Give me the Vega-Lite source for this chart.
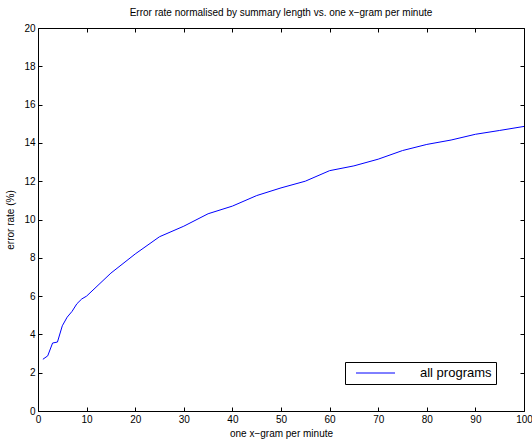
{
  "$schema": "https://vega.github.io/schema/vega-lite/v6.json",
  "width": 486,
  "height": 383,
  "autosize": {"type": "none"},
  "padding": {"left": 38, "top": 28, "right": 8, "bottom": 28},
  "background": "white",
  "title": {"text": "Error rate normalised by summary length vs. one x−gram per minute", "fontSize": 10, "fontWeight": "normal", "font": "Liberation Sans", "color": "black", "offset": 5},
  "config": {
    "view": {"stroke": null},
    "font": "Liberation Sans",
    "axis": {"grid": false, "domainColor": "black", "domainWidth": 1, "tickColor": "black", "tickWidth": 1, "tickSize": -4, "labelColor": "black", "titleColor": "black", "labelFontSize": 10, "titleFontSize": 10, "titleFontWeight": "normal", "labelFont": "Liberation Sans", "titleFont": "Liberation Sans", "labelPadding": 7, "labelFlush": false},
    "legend": {"orient": "none", "legendX": 307, "legendY": 334, "strokeColor": "black", "padding": 4, "symbolType": "M-3,0H3", "symbolSize": 169, "symbolStrokeWidth": 1, "labelFontSize": 13, "labelOffset": 37.5, "symbolOffset": 19.5, "labelFont": "Liberation Sans", "labelColor": "black", "fillColor": "white"}
  },
  "data": {"values": [
    {"x": 1, "y": 2.7, "s": "all programs"},
    {"x": 2, "y": 2.88, "s": "all programs"},
    {"x": 3, "y": 3.55, "s": "all programs"},
    {"x": 4, "y": 3.6, "s": "all programs"},
    {"x": 5, "y": 4.45, "s": "all programs"},
    {"x": 6, "y": 4.9, "s": "all programs"},
    {"x": 7, "y": 5.2, "s": "all programs"},
    {"x": 8, "y": 5.6, "s": "all programs"},
    {"x": 9, "y": 5.85, "s": "all programs"},
    {"x": 10, "y": 6.0, "s": "all programs"},
    {"x": 15, "y": 7.2, "s": "all programs"},
    {"x": 20, "y": 8.2, "s": "all programs"},
    {"x": 25, "y": 9.1, "s": "all programs"},
    {"x": 30, "y": 9.65, "s": "all programs"},
    {"x": 35, "y": 10.3, "s": "all programs"},
    {"x": 40, "y": 10.7, "s": "all programs"},
    {"x": 45, "y": 11.25, "s": "all programs"},
    {"x": 50, "y": 11.65, "s": "all programs"},
    {"x": 55, "y": 12.0, "s": "all programs"},
    {"x": 60, "y": 12.55, "s": "all programs"},
    {"x": 65, "y": 12.8, "s": "all programs"},
    {"x": 70, "y": 13.15, "s": "all programs"},
    {"x": 75, "y": 13.6, "s": "all programs"},
    {"x": 80, "y": 13.92, "s": "all programs"},
    {"x": 85, "y": 14.15, "s": "all programs"},
    {"x": 90, "y": 14.45, "s": "all programs"},
    {"x": 95, "y": 14.65, "s": "all programs"},
    {"x": 100, "y": 14.86, "s": "all programs"}
  ]},
  "layer": [
    {
      "mark": {"type": "line", "strokeWidth": 1, "clip": true},
      "encoding": {
        "x": {"field": "x", "type": "quantitative", "scale": {"domain": [0, 100], "nice": false}, "axis": {"values": [0,10,20,30,40,50,60,70,80,90,100], "title": "one x−gram per minute", "titlePadding": 4}},
        "y": {"field": "y", "type": "quantitative", "scale": {"domain": [0, 20], "nice": false}, "axis": {"values": [0,2,4,6,8,10,12,14,16,18,20], "title": "error rate (%)", "titlePadding": 8}},
        "color": {"field": "s", "type": "nominal", "scale": {"domain": ["all programs"], "range": ["#0000ff"]}, "legend": {"title": null}}
      }
    },
    {
      "mark": {"type": "line", "strokeOpacity": 0},
      "encoding": {
        "x": {"field": "x", "type": "quantitative", "axis": {"orient": "top", "values": [0,10,20,30,40,50,60,70,80,90,100], "labels": false, "title": null}},
        "y": {"field": "y", "type": "quantitative", "axis": {"orient": "right", "values": [0,2,4,6,8,10,12,14,16,18,20], "labels": false, "title": null}}
      }
    }
  ],
  "resolve": {"axis": {"x": "independent", "y": "independent"}}
}
